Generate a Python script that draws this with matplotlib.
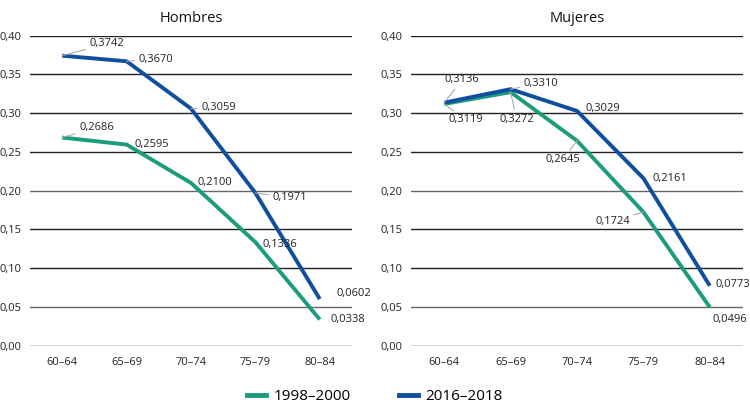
import matplotlib
matplotlib.use("Agg")
import matplotlib.pyplot as plt
from matplotlib.lines import Line2D

categories = ["60–64", "65–69", "70–74", "75–79", "80–84"]
hombres_1998 = [0.2686, 0.2595, 0.2100, 0.1336, 0.0338]
hombres_2016 = [0.3742, 0.3670, 0.3059, 0.1971, 0.0602]
mujeres_1998 = [0.3119, 0.3272, 0.2645, 0.1724, 0.0496]
mujeres_2016 = [0.3136, 0.3310, 0.3029, 0.2161, 0.0773]
series_labels = ["1998–2000", "2016–2018"]
yticks = [0.00, 0.05, 0.10, 0.15, 0.20, 0.25, 0.30, 0.35, 0.40]

GREEN = "#1b9c7c"
BLUE = "#0f4f9d"
FONT = ["Open Sans", "DejaVu Sans"]
plt.rcParams["font.family"] = FONT

fig = plt.figure(figsize=(7.5, 4.05), dpi=100)
axL = fig.add_axes([30/750, 59.3/405, 322/750, 310/405])
axR = fig.add_axes([411/750, 59.3/405, 332/750, 310/405])

def fmt(v):
    return f"{v:.4f}".replace(".", ",")

# label offsets in pixels (dx, dy) relative to point
offs = {
    ("L", 1): [(27, 12), (12, 2), (10, 1), (17, -5), (17, 6)],
    ("L", 0): [(17, 10), (8, 0), (7, 0), (7, -2), (11, 0)],
    ("R", 1): [(18, 23), (13, 6), (9, 2), (9, 0), (6, 1)],
    ("R", 0): [(22, -16), (6, -27), (-14, -19), (-31, -9), (3, -12)],
}
has_leader = {
    ("L", 1): [True, True, True, True, False],
    ("L", 0): [True, False, False, False, False],
    ("R", 1): [True, True, False, False, False],
    ("R", 0): [True, True, True, True, False],
}
ha_map = {
    ("L", 1): ["left"]*5,
    ("L", 0): ["left"]*5,
    ("R", 1): ["center", "left", "left", "left", "left"],
    ("R", 0): ["center", "center", "center", "center", "left"],
}

def panel(ax, key, title, s1998, s2016):
    x = list(range(len(categories)))
    for yv in yticks:
        ax.axhline(yv, color="#222222" if yv not in (0.05, 0.20) else "#666666",
                   lw=1.0, zorder=1)
    ax.plot(x, s1998, color=GREEN, lw=2.8, zorder=3, solid_capstyle="butt")
    ax.plot(x, s2016, color=BLUE, lw=2.8, zorder=4, solid_capstyle="butt")
    ax.set_xlim(-0.5, len(categories) - 0.5)
    ax.set_ylim(0, 0.40)
    ax.set_xticks(x)
    ax.set_xticklabels(categories, fontsize=8, color="#222222")
    ax.set_yticks(yticks)
    ax.set_yticklabels([f"{v:.2f}".replace(".", ",") for v in yticks],
                       fontsize=8, color="#222222")
    ax.tick_params(length=0, pad=8)
    ax.tick_params(axis="y", pad=6)
    for s in ax.spines.values():
        s.set_visible(False)
    ax.set_title(title, fontsize=10.5, pad=10, color="#111111")
    for si, ser in ((1, s2016), (0, s1998)):
        for i, v in enumerate(ser):
            dx, dy = offs[(key, si)][i]
            ha = ha_map[(key, si)][i]
            ap = None
            if has_leader[(key, si)][i]:
                ap = dict(arrowstyle="-", color="#aaaaaa", lw=0.8,
                          shrinkA=1, shrinkB=0)
            ax.annotate(fmt(v), xy=(i, v), xytext=(dx, dy),
                        textcoords="offset pixels", ha=ha, va="center",
                        fontsize=8, color="#222222", arrowprops=ap, zorder=5)

panel(axL, "L", "Hombres", hombres_1998, hombres_2016)
panel(axR, "R", "Mujeres", mujeres_1998, mujeres_2016)

handles = [Line2D([0], [0], color=GREEN, lw=3.5),
           Line2D([0], [0], color=BLUE, lw=3.5)]
fig.legend(handles, series_labels, loc="center", bbox_to_anchor=(0.5, 8/405),
           ncol=2, frameon=False, fontsize=11, handlelength=1.2,
           handletextpad=0.5, columnspacing=3.2)

fig.savefig("out.png", dpi=100)
